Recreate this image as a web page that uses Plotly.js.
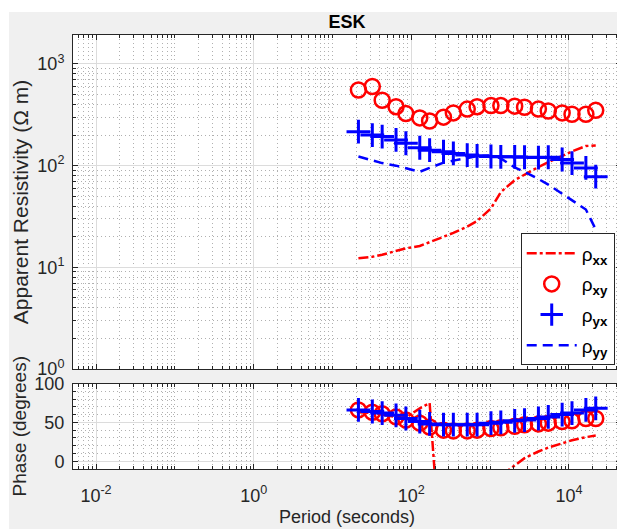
<!DOCTYPE html>
<html><head><meta charset="utf-8">
<script src="https://cdn.plot.ly/plotly-3.0.1.min.js"></script>
<style>
html,body{margin:0;padding:0;background:#fff;overflow:hidden;width:617px;height:529px}
#chart{position:absolute;left:9px;top:12px;width:612px;height:517px}
</style>
</head><body><div id="chart"></div>
<script>
// ---- data ----
const periods = [21.33, 32, 42.67, 64, 85.33, 128, 170.67, 256, 341.33, 512, 682.67, 1024, 1365.33, 2048, 2730.67, 4096, 5461.33, 8192, 10922.67, 16384, 21845.33];
const rhoXX = [12.3, 12.7, 13.3, 14.5, 15.4, 16.2, 17.7, 19.8, 21.8, 25.2, 28.5, 38, 55, 72, 82, 97, 108, 125, 138, 156, 158];
const rhoXY = [555, 600, 440, 380, 325, 295, 275, 300, 330, 360, 380, 390, 390, 385, 375, 360, 345, 330, 320, 320, 350];
const rhoYX = [216, 200, 193, 179, 166, 150, 142, 137, 132, 127, 125, 123, 122, 122, 121, 120, 121, 115, 106, 95, 78];
const rhoYY = [123, 113, 106, 100, 95, 87, 95, 107, 112, 118, 124, 125, 118, 96, 87, 74, 65, 53, 46, 37, 23.6];
const phiXX = [63, 62, 60, 57, 56, 68, 75, -170, -150, -120, -90, -50, -19, -5.4, 4, 12.5, 17.5, 23, 27, 31, 33];
const phiXY = [66, 63, 61, 57, 53, 49, 44, 40, 39, 39, 40, 42, 43, 45, 47, 48, 49, 51, 52, 55, 55];
const phiYX = [66, 64, 62, 59, 55, 51, 48, 47, 47, 47, 47, 49, 50, 52, 53, 55, 57, 60, 62, 66, 68];

const periodTickVals = [0.01, 1, 100, 10000];
const periodTickText = ['10<sup>-2</sup>', '10<sup>0</sup>', '10<sup>2</sup>', '10<sup>4</sup>'];
const rhoTickVals = [1, 10, 100, 1000];
const rhoTickText = ['10<sup>0</sup>', '10<sup>1</sup>', '10<sup>2</sup>', '10<sup>3</sup>'];
const phaseTickVals = [0, 50, 100];
const legendNames = ['ρ<sub><b>xx</b></sub>', 'ρ<sub><b>xy</b></sub>', 'ρ<sub><b>yx</b></sub>', 'ρ<sub><b>yy</b></sub>'];

// ---- minor tick positions (axis decoration) ----
function logMinor(d0, d1, majors) {
  const out = [];
  for (let d = d0; d <= d1; d++) for (let k = 1; k <= 9; k++) {
    const v = k * Math.pow(10, d);
    if (!majors.some(m => Math.abs(m - v) / v < 1e-9)) out.push(v);
  }
  return out;
}
const minorX = logMinor(-3, 5, periodTickVals);
const minorY = logMinor(-1, 4, rhoTickVals);

const RED = '#ff0000', BLUE = '#0000ff';
const AX = '#262626';
const FONT = 'Liberation Sans, Arial, Helvetica, sans-serif';

function lineTrace(x, y, color, dash, name, xa, ya, show, grp) {
  return {x, y, xaxis: xa, yaxis: ya, type: 'scatter', mode: 'lines', name, legendgroup: grp,
    line: {color, width: 2.5, dash}, showlegend: show};
}
function markTrace(x, y, color, symbol, size, lw, name, xa, ya, show, grp) {
  return {x, y, xaxis: xa, yaxis: ya, type: 'scatter', mode: 'markers', name, legendgroup: grp,
    marker: {symbol, size, color, line: {color, width: lw}}, showlegend: show};
}
const DASHDOT = '10px,3px,3px,3px';
const DASH = '10px,6px';

const traces = [
  lineTrace(periods, rhoXX, RED, DASHDOT, legendNames[0], 'x', 'y', true, 'a'),
  markTrace(periods, rhoXY, RED, 'circle-open', 15, 2.5, legendNames[1], 'x', 'y', true, 'b'),
  markTrace(periods, rhoYX, BLUE, 'cross-thin-open', 17, 3, legendNames[2], 'x', 'y', true, 'c'),
  lineTrace(periods, rhoYY, BLUE, DASH, legendNames[3], 'x', 'y', true, 'd'),
  lineTrace(periods, phiXX, RED, DASHDOT, 'phi xx', 'x2', 'y2', false, 'a'),
  markTrace(periods, phiXY, RED, 'circle-open', 15, 2.5, 'phi xy', 'x2', 'y2', false, 'b'),
  markTrace(periods, phiYX, BLUE, 'cross-thin-open', 17, 3, 'phi yx', 'x2', 'y2', false, 'c')
];

const gridMajor = '#dcdcdc';
const gridMinor = '#b0b0b0';
const minorDash = '1px,3px';
function baseAxis() {
  return {ticks: 'inside', ticklen: 5, tickcolor: AX, showline: true, linecolor: AX, linewidth: 1,
    mirror: 'ticks', showgrid: true, gridcolor: gridMajor, gridwidth: 1, zeroline: false,
    tickfont: {size: 18, color: AX, family: FONT}};
}
const xRange = [-2.292, 4.66];

const layout = {
  width: 612, height: 517,
  paper_bgcolor: '#f0f0f0', plot_bgcolor: '#ffffff',
  margin: {l: 64, r: 0, t: 23, b: 60},
  font: {family: FONT, color: AX},
  showlegend: true,
  title: {text: '<b>ESK</b>', font: {size: 18, color: '#000', family: FONT}, x: 0.5, xref: 'paper', xanchor: 'center',
    y: 1 - 10 / 517, yref: 'container', yanchor: 'middle'},
  xaxis: Object.assign(baseAxis(), {type: 'log', range: xRange, domain: [0, 1], anchor: 'y',
    tickmode: 'array', tickvals: periodTickVals, ticktext: periodTickText, showticklabels: false,
    minor: {tickmode: 'array', tickvals: minorX, ticks: 'inside', ticklen: 3, tickcolor: AX,
      showgrid: true, gridcolor: gridMinor, griddash: minorDash, gridwidth: 1}}),
  yaxis: Object.assign(baseAxis(), {type: 'log', range: [0, 3.285], domain: [0.2304, 1], anchor: 'x',
    tickmode: 'array', tickvals: rhoTickVals, ticktext: rhoTickText, ticklabelstandoff: 4,
    title: {text: 'Apparent Resistivity (Ω m)', font: {size: 21, color: AX, family: FONT}, standoff: 12},
    minor: {tickmode: 'array', tickvals: minorY, ticks: 'inside', ticklen: 3, tickcolor: AX,
      showgrid: true, gridcolor: gridMinor, griddash: minorDash, gridwidth: 1}}),
  xaxis2: Object.assign(baseAxis(), {type: 'log', range: xRange, domain: [0, 1], anchor: 'y2',
    tickmode: 'array', tickvals: periodTickVals, ticktext: periodTickText, ticklabelstandoff: 10,
    title: {text: 'Period (seconds)', font: {size: 18, color: AX, family: FONT}, standoff: 5},
    minor: {tickmode: 'array', tickvals: minorX, ticks: 'inside', ticklen: 3, tickcolor: AX,
      showgrid: true, gridcolor: gridMinor, griddash: minorDash, gridwidth: 1}}),
  yaxis2: Object.assign(baseAxis(), {range: [-10, 100], domain: [0, 0.197], anchor: 'x2',
    tickmode: 'array', tickvals: phaseTickVals, ticklabelstandoff: 4,
    title: {text: 'Phase (degrees)', font: {size: 19, color: AX, family: FONT}, standoff: 10},
    minor: {dtick: 10, tick0: 0, ticks: 'inside', ticklen: 3, tickcolor: AX,
      showgrid: true, gridcolor: gridMinor, griddash: minorDash, gridwidth: 1}}),
  legend: {x: 0.817, y: 0.543, xanchor: 'left', yanchor: 'top', xref: 'paper', yref: 'paper',
    bgcolor: '#ffffff', bordercolor: AX, borderwidth: 1, font: {size: 19, color: '#000', family: FONT},
    itemwidth: 50, tracegroupgap: 3}
};

Plotly.newPlot('chart', traces, layout, {staticPlot: true, displayModeBar: false});
</script>
</body></html>
